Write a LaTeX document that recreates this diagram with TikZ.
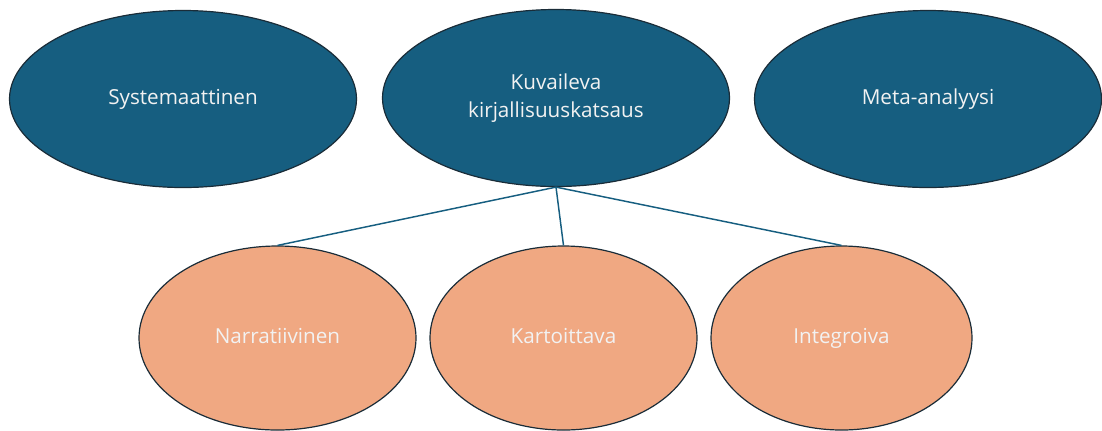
\documentclass[tikz,border=0pt]{standalone}
\usepackage{fontspec}
\setmainfont{Open Sans}
\usepackage{tikz}
\usetikzlibrary{shapes.geometric,positioning}
\definecolor{reviewblue}{RGB}{22,94,128}
\definecolor{revieworange}{RGB}{240,168,130}
\definecolor{reviewedge}{RGB}{26,44,56}

\begin{document}
\begin{tikzpicture}[x=0.75pt,y=-0.75pt,
    maintype/.style={ellipse, draw=reviewedge, line width=0.9pt, fill=reviewblue,
        text=white!95!black, inner sep=0pt, minimum width=347*0.75pt, minimum height=177*0.75pt,
        align=center, font=\fontsize{15.5}{20.5}\selectfont},
    subtype/.style={maintype, fill=revieworange, minimum height=184*0.75pt,
        text height=1.1em, text depth=0.3em},
    branch/.style={draw=reviewblue, line width=1.1pt}]
    \useasboundingbox (0,0) rectangle (1102,430);
    % review types
    \node[maintype] (syst) at (183,99) {Systemaattinen};
    \node[maintype] (kuv) at (556,98) {Kuvaileva\\kirjallisuuskatsaus};
    \node[maintype] (meta) at (928,99) {Meta-analyysi};
    % subtypes of the descriptive review
    \node[subtype, minimum width=277*0.75pt] (narr) at (277.5,338) {Narratiivinen};
    \node[subtype, minimum width=267*0.75pt] (kart) at (563.5,338) {Kartoittava};
    \node[subtype, minimum width=261*0.75pt] (integ) at (841.5,338) {Integroiva};
    \draw[branch] (kuv.south) -- (narr.north);
    \draw[branch] (kuv.south) -- (kart.north);
    \draw[branch] (kuv.south) -- (integ.north);
\end{tikzpicture}
\end{document}
